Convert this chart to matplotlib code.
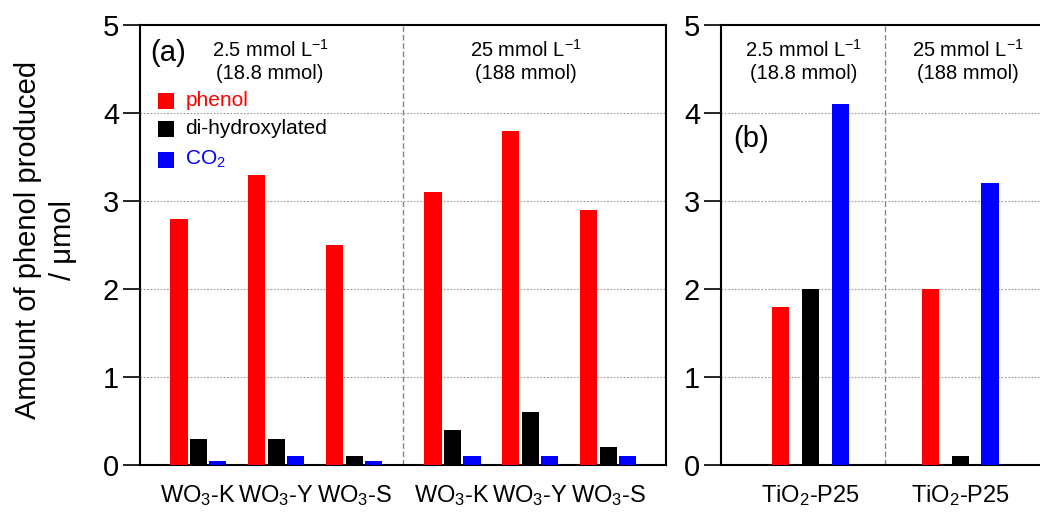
import numpy as np
import matplotlib
matplotlib.use('Agg')
import matplotlib.pyplot as plt

plt.rcParams['font.family'] = ['Liberation Sans', 'DejaVu Sans']
plt.rcParams['mathtext.fontset'] = 'custom'
plt.rcParams['mathtext.rm'] = 'Liberation Sans'
plt.rcParams['mathtext.it'] = 'Liberation Sans'

# (a) WO3 samples at two phenol concentrations
labels_a = ['WO$_3$-K', 'WO$_3$-Y', 'WO$_3$-S', 'WO$_3$-K', 'WO$_3$-Y', 'WO$_3$-S']
phenol_a = [2.8, 3.3, 2.5, 3.1, 3.8, 2.9]
dihydroxy_a = [0.3, 0.3, 0.1, 0.4, 0.6, 0.2]
co2_a = [0.05, 0.1, 0.05, 0.1, 0.1, 0.1]

# (b) TiO2-P25
labels_b = ['TiO$_2$-P25', 'TiO$_2$-P25']
phenol_b = [1.8, 2.0]
dihydroxy_b = [2.0, 0.1]
co2_b = [4.1, 3.2]

series_names = ['phenol', 'di-hydroxylated', 'CO$_2$']
colors = ['#ff0000', '#000000', '#0000ff']

fig = plt.figure(figsize=(10.4, 5.2), dpi=100)
ax1 = fig.add_axes([140 / 1040, 55 / 520, 526 / 1040, 440 / 520])
ax2 = fig.add_axes([721 / 1040, 55 / 520, 319 / 1040, 440 / 520])

# положения групп
xa = np.array([0, 1, 2, 3.26, 4.26, 5.26])
wa = 0.22
for k, vals in enumerate([phenol_a, dihydroxy_a, co2_a]):
    ax1.bar(xa + (k - 1) * 0.25, vals, width=wa, color=colors[k], zorder=3)
ax1.set_xlim(-0.75, 6.0)

xb = np.array([0, 1])
wb = 0.116
for k, vals in enumerate([phenol_b, dihydroxy_b, co2_b]):
    ax2.bar(xb + (k - 1) * 0.2, vals, width=wb, color=colors[k], zorder=3)
ax2.set_xlim(-0.6, 1.534)

for ax, xs, labs in [(ax1, xa, labels_a), (ax2, xb, labels_b)]:
    ax.set_ylim(0, 5)
    ax.set_yticks([0, 1, 2, 3, 4, 5])
    ax.tick_params(axis='y', direction='out', length=12, width=1.2, labelsize=21, pad=3)
    ax.set_xticks(xs)
    ax.set_xticklabels(labs, fontsize=17)
    ax.tick_params(axis='x', length=0, pad=13)
    for y in [1, 2, 3, 4]:
        ax.axhline(y, color='#999999', linestyle=(0, (1.5, 1.5)), linewidth=0.8, zorder=1)
    for s in ax.spines.values():
        s.set_linewidth(1.5)

ax2.spines['right'].set_visible(False)

# разделители
ax1.axvline(2.63, color='#888888', linestyle=(0, (4, 2)), linewidth=1.0, zorder=2)
ax2.axvline(0.5, color='#888888', linestyle=(0, (4, 2)), linewidth=1.0, zorder=2)

# подписи концентраций
tsize = 14.5
ax1.text(0.92, 4.72, '2.5 mmol L$^{-1}$', ha='center', va='center', fontsize=tsize)
ax1.text(0.92, 4.45, '(18.8 mmol)', ha='center', va='center', fontsize=tsize)
ax1.text(4.2, 4.72, '25 mmol L$^{-1}$', ha='center', va='center', fontsize=tsize)
ax1.text(4.2, 4.45, '(188 mmol)', ha='center', va='center', fontsize=tsize)
ax1.text(-0.62, 4.68, '(a)', ha='left', va='center', fontsize=21)

ax2.text(-0.05, 4.72, '2.5 mmol L$^{-1}$', ha='center', va='center', fontsize=tsize)
ax2.text(-0.05, 4.45, '(18.8 mmol)', ha='center', va='center', fontsize=tsize)
ax2.text(1.05, 4.72, '25 mmol L$^{-1}$', ha='center', va='center', fontsize=tsize)
ax2.text(1.05, 4.45, '(188 mmol)', ha='center', va='center', fontsize=tsize)
ax2.text(-0.52, 3.7, '(b)', ha='left', va='center', fontsize=21)

# легенда вручную
leg_y = [4.14, 3.82, 3.47]
for name, c, y in zip(series_names, colors, leg_y):
    ax1.bar(-0.42, 0.18, width=0.2, bottom=y - 0.09, color=c, zorder=3)
    ax1.text(-0.17, y, name, ha='left', va='center', fontsize=15, color=c)

fig.text(0.044, 0.538, 'Amount of phenol produced\n/ \u03bcmol', rotation=90,
         ha='center', va='center', fontsize=21, multialignment='center',
         linespacing=1.3)

plt.savefig('out.png', dpi=100)
